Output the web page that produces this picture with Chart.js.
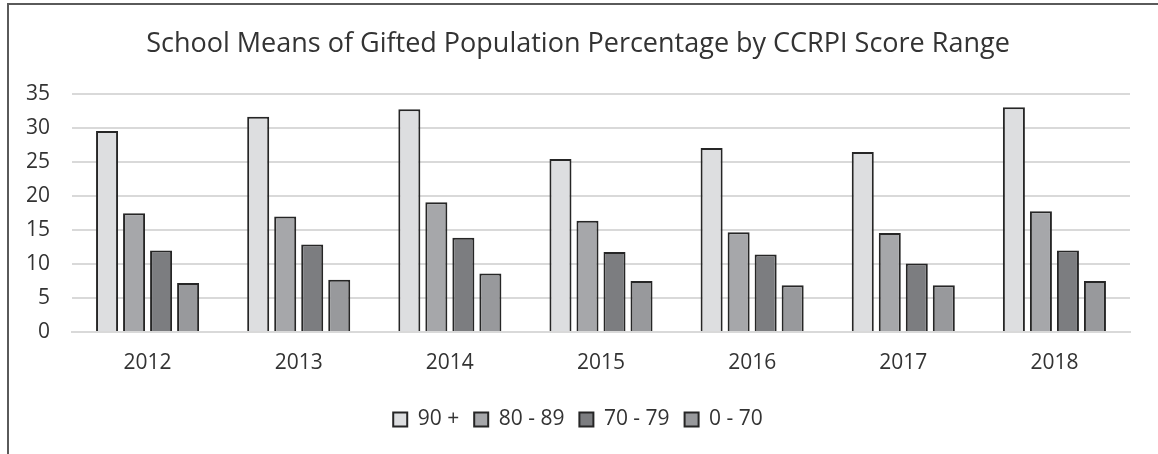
<!DOCTYPE html>
<html>
<head>
<meta charset="utf-8">
<script src="https://cdn.jsdelivr.net/npm/chart.js@4"></script>
<style>
  body { margin: 0; background: #fff; }
  #frame { position: absolute; left: 7px; top: 3px; width: 1151px; height: 451px;
           border-left: 2px solid #5a5a5a; border-top: 2px solid #5a5a5a; }
  #wrap { position: absolute; left: 0; top: 0; width: 1158px; height: 454px; }
</style>
</head>
<body>
<div id="frame"></div>
<div id="wrap"><canvas id="chart"></canvas></div>
<script>
// dati
var years = ["2012", "2013", "2014", "2015", "2016", "2017", "2018"];
var range90 = [29.6, 31.7, 32.8, 25.5, 27.1, 26.5, 33.1];
var range80 = [17.5, 17.0, 19.1, 16.4, 14.7, 14.6, 17.8];
var range70 = [12.0, 12.9, 13.9, 11.8, 11.4, 10.1, 12.0];
var range0 = [7.2, 7.7, 8.6, 7.5, 6.9, 6.9, 7.5];
var seriesNames = ["90 +", "80 - 89", "70 - 79", "0 - 70"];
var seriesColors = ["#dddee0", "#a6a7aa", "#7c7d80", "#98999c"];

var font = "'Open Sans', 'Noto Sans', sans-serif";

function makeSet(i, values) {
    return {
        label: seriesNames[i],
        data: values,
        backgroundColor: seriesColors[i],
        borderColor: '#262626',
        borderWidth: 2,
        categoryPercentage: 0.715,
        barPercentage: 0.815
    };
}

var ctx = document.getElementById('chart').getContext('2d');
new Chart(ctx, {
    type: 'bar',
    data: {
        labels: years,
        datasets: [
            makeSet(0, range90),
            makeSet(1, range80),
            makeSet(2, range70),
            makeSet(3, range0)
        ]
    },
    options: {
        responsive: true,
        maintainAspectRatio: false,
        animation: false,
        layout: { padding: { left: 26, right: 28, top: 18, bottom: 14 } },
        plugins: {
            title: {
                display: true,
                text: 'School Means of Gifted Population Percentage by CCRPI Score Range',
                color: '#333333',
                font: { family: font, size: 27, weight: 'normal' },
                padding: { top: 10, bottom: 34 }
            },
            legend: {
                position: 'bottom',
                labels: {
                    color: '#333333',
                    font: { family: font, size: 21 },
                    boxWidth: 14,
                    boxHeight: 14,
                    padding: 15
                }
            },
            tooltip: { enabled: false }
        },
        scales: {
            x: {
                grid: { display: false, drawTicks: false },
                border: { display: true, color: '#d9d9d9', width: 2 },
                ticks: { color: '#333333', font: { family: font, size: 21 }, padding: 18 },
                afterFit: function(scale) { scale.height = 62; }
            },
            y: {
                min: 0,
                max: 35,
                ticks: { stepSize: 5, color: '#333333', font: { family: font, size: 21 }, padding: 22 },
                grid: { color: '#d9d9d9', lineWidth: 2, drawTicks: false },
                border: { display: false },
                afterFit: function(scale) { scale.width = 46; }
            }
        }
    }
});
</script>
</body>
</html>
